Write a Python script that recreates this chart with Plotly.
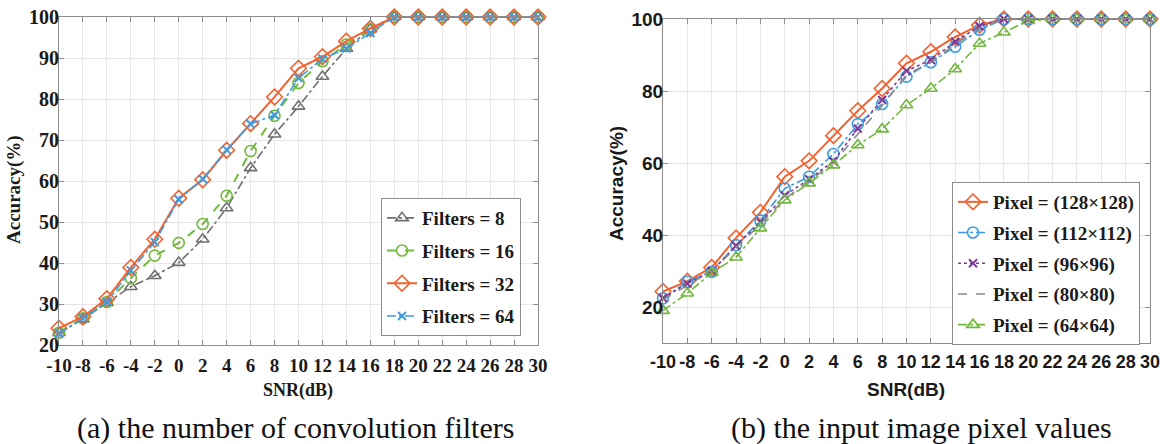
import plotly.graph_objects as go

snr = [-10, -8, -6, -4, -2, 0, 2, 4, 6, 8, 10, 12, 14, 16, 18, 20, 22, 24, 26, 28, 30]
tick_labels = [str(v) for v in snr]

# (a) number of convolution filters
filters_8 = [23, 26.3, 30.3, 34.2, 36.9, 40.1, 45.8, 53.4, 63.2, 71.4, 78.2, 85.5, 92.3, 97.0, 100, 100, 100, 100, 100, 100, 100]
filters_16 = [23, 26.5, 30.5, 36.3, 41.8, 44.9, 49.5, 56.4, 67.3, 75.9, 83.9, 89.2, 93.3, 97.0, 100, 100, 100, 100, 100, 100, 100]
filters_32 = [24.1, 26.9, 31.3, 38.9, 45.8, 55.8, 60.3, 67.5, 74.0, 80.5, 87.5, 90.3, 94.1, 97.2, 100, 100, 100, 100, 100, 100, 100]
filters_64 = [22.8, 26.5, 30.5, 38.2, 45.1, 55.5, 60.5, 67.6, 73.9, 76.1, 85.1, 89.8, 92.3, 96.1, 100, 100, 100, 100, 100, 100, 100]

# (b) input image pixel values
pix_128 = [24.3, 27.2, 31.0, 39.2, 46.3, 56.2, 60.6, 67.6, 74.5, 80.7, 87.7, 90.9, 95.0, 98.3, 100, 100, 100, 100, 100, 100, 100]
pix_112 = [22.4, 27.0, 29.8, 37.2, 44.0, 52.9, 56.2, 62.5, 70.8, 76.4, 84.0, 88.0, 92.3, 97.0, 100, 100, 100, 100, 100, 100, 100]
pix_96 = [22.5, 26.5, 30.0, 37.0, 43.5, 51.0, 55.5, 60.5, 69.6, 77.5, 85.6, 88.6, 93.7, 98.0, 100, 100, 100, 100, 100, 100, 100]
pix_80 = [22.0, 26.0, 30.0, 36.5, 43.0, 50.0, 55.0, 60.0, 68.0, 76.0, 84.5, 88.0, 93.0, 97.5, 100, 100, 100, 100, 100, 100, 100]
pix_64 = [19.0, 23.8, 29.5, 33.8, 41.9, 49.7, 54.4, 59.4, 65.0, 69.4, 76.1, 80.7, 86.1, 93.2, 96.3, 99.5, 100, 100, 100, 100, 100]

names_a = ["Filters = 8", "Filters = 16", "Filters = 32", "Filters = 64"]
names_b = ["Pixel = (128×128)", "Pixel = (112×112)", "Pixel = (96×96)", "Pixel = (80×80)", "Pixel = (64×64)"]
captions = ["(a) the number of convolution filters", "(b) the input image pixel values"]
x_title = "SNR(dB)"
y_title = "Accuracy(%)"

ORANGE = "#F2622E"
GREEN = "#72B83E"
BLUE = "#3E9BE0"
GREY = "#707070"
PURPLE = "#7E3A96"

fig = go.Figure()

def add(y, name, color, dash, symbol, size, xa, ya, legend, lw=1.6, mlw=1.6):
    mode = "lines+markers" if symbol else "lines"
    fig.add_trace(go.Scatter(
        x=snr, y=y, name=name, mode=mode, xaxis=xa, yaxis=ya, legend=legend,
        legendgroup=name, cliponaxis=False,
        line=dict(color=color, dash=dash, width=lw),
        marker=dict(symbol=symbol, size=size, color=color,
                    line=dict(color=color, width=mlw)) if symbol else None,
    ))

add(filters_8, names_a[0], GREY, "dashdot", "triangle-up-open", 11, "x", "y", "legend")
add(filters_16, names_a[1], GREEN, "dash", "circle-open", 11, "x", "y", "legend", lw=2)
add(filters_32, names_a[2], ORANGE, "solid", "diamond-open", 12, "x", "y", "legend", lw=2)
add(filters_64, names_a[3], BLUE, "dashdot", "x-thin-open", 8, "x", "y", "legend", lw=1.6, mlw=2)

add(pix_128, names_b[0], ORANGE, "solid", "diamond-open", 12, "x2", "y2", "legend2", lw=2)
add(pix_112, names_b[1], BLUE, "dashdot", "circle-open", 11, "x2", "y2", "legend2")
add(pix_96, names_b[2], PURPLE, "dot", "x-thin-open", 8, "x2", "y2", "legend2", mlw=2)
add(pix_80, names_b[3], "#8A8A8A", "dash", None, 0, "x2", "y2", "legend2")
add(pix_64, names_b[4], GREEN, "dashdot", "triangle-up-open", 11, "x2", "y2", "legend2")

W, H = 1164, 444
def px(v):
    return v / W
def py(v):
    return 1 - v / H

axis_common = dict(
    showgrid=True, gridcolor="#E6E6E6", gridwidth=1,
    showline=True, linecolor="#8C8C8C", linewidth=1, mirror="ticks",
    ticks="inside", ticklen=5, tickcolor="#8C8C8C", zeroline=False,
    automargin=False,
)

def ann(text, x, y, family, size, angle=0, bold=True, color="#1a1a1a"):
    return dict(text=f"<b>{text}</b>" if bold else text, x=px(x), y=py(y),
                xref="paper", yref="paper", showarrow=False,
                xanchor="center", yanchor="middle", textangle=angle,
                font=dict(family=family, size=size, color=color))

fig.update_layout(
    width=W, height=H,
    paper_bgcolor="white", plot_bgcolor="white",
    margin=dict(l=0, r=0, t=0, b=0),
    showlegend=True,
    xaxis=dict(domain=[px(59), px(538)], range=[-10, 30], tickvals=snr, ticktext=tick_labels,
               anchor="y", tickfont=dict(family="Liberation Serif", size=19, color="#1a1a1a"),
               ticklabelstandoff=3, **axis_common),
    yaxis=dict(domain=[py(345), py(17)], range=[20, 100], tickvals=[20, 30, 40, 50, 60, 70, 80, 90, 100],
               anchor="x", tickfont=dict(family="Liberation Serif", size=20, color="#1a1a1a"),
               ticklabelstandoff=-5, **axis_common),
    xaxis2=dict(domain=[px(663), px(1150)], range=[-10, 30], tickvals=snr, ticktext=tick_labels,
                anchor="y2", tickfont=dict(family="Liberation Sans", size=18, color="#1a1a1a"),
                ticklabelstandoff=2, **axis_common),
    yaxis2=dict(domain=[py(343), py(19)], range=[10, 100], tickvals=[20, 40, 60, 80, 100],
                anchor="x2", tickfont=dict(family="Liberation Sans", size=19, color="#1a1a1a"),
                ticklabelstandoff=-5, **axis_common),
    legend=dict(x=px(381), y=py(198), xanchor="left", yanchor="top",
                bgcolor="white", bordercolor="#8C8C8C", borderwidth=1,
                font=dict(family="Liberation Serif", size=19, color="#1a1a1a", weight="bold"),
                tracegroupgap=5, itemwidth=30),
    legend2=dict(x=px(952), y=py(182), xanchor="left", yanchor="top",
                 bgcolor="white", bordercolor="#8C8C8C", borderwidth=1,
                 font=dict(family="Liberation Serif", size=19, color="#1a1a1a", weight="bold"),
                 tracegroupgap=3, itemwidth=30),
    annotations=[
        ann(y_title, 14, 190, "Liberation Serif", 19, angle=-90),
        ann(x_title, 298, 390, "Liberation Serif", 18),
        ann(y_title, 616, 184, "Liberation Sans", 19, angle=-90),
        ann(x_title, 906, 389, "Liberation Sans", 19),
        ann(captions[0], 295, 428, "Liberation Serif", 30, bold=False, color="#111111"),
        ann(captions[1], 921, 428, "Liberation Serif", 30, bold=False, color="#111111"),
    ],
)

fig.update_xaxes(tickfont_weight="bold")
fig.update_yaxes(tickfont_weight="bold")

fig.write_html("out.html", config={"displayModeBar": False},
               post_script="document.body.style.margin='0';document.body.style.overflow='hidden';")
